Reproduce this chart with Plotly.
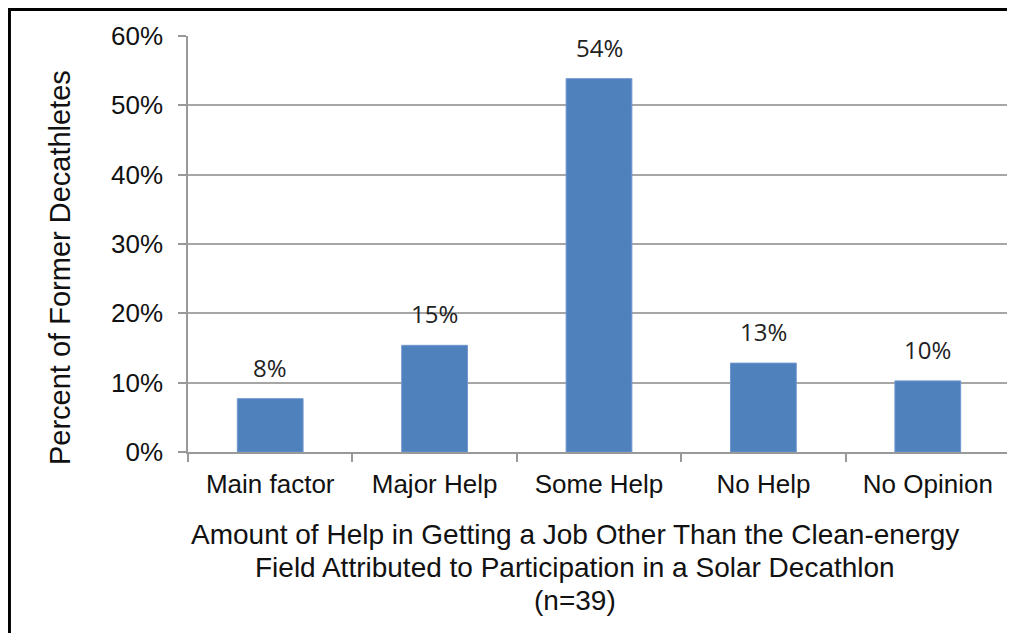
import plotly.graph_objects as go

categories = ["Main factor", "Major Help", "Some Help", "No Help", "No Opinion"]
counts = [3, 6, 21, 5, 4]
n_total = 39
values = [c / n_total * 100 for c in counts]
labels = [f"{round(v):.0f}%" for v in values]
y_ticks = [0, 10, 20, 30, 40, 50, 60]
y_tick_labels = [f"{t}%" for t in y_ticks]
x_title_lines = ["Amount of Help in Getting a Job Other Than the Clean-energy",
                 "Field Attributed to Participation in a Solar Decathlon",
                 "(n=39)"]
y_title = "Percent of Former Decathletes"

fig = go.Figure()
fig.add_trace(go.Bar(
    x=categories, y=values,
    marker=dict(color="#4f81bd", line=dict(color="#6f97cf", width=1)),
    width=0.4, hoverinfo="x+y",
))

annotations = []
for c, v, t in zip(categories, values, labels):
    annotations.append(dict(x=c, y=v, xref="x", yref="y", text=t, showarrow=False,
                            yanchor="bottom", yshift=13,
                            font=dict(family="Open Sans, Lato, sans-serif", size=24, color="#222")))
for line, py in zip(x_title_lines, [-0.1995, -0.2788, -0.3558]):
    annotations.append(dict(x=0.4708, y=py, xref="paper", yref="paper", text=line,
                            showarrow=False, xanchor="center", yanchor="middle",
                            font=dict(size=28, color="#111")))
annotations.append(dict(x=-0.1557, y=0.4423, xref="paper", yref="paper", text=y_title,
                        showarrow=False, textangle=-90, xanchor="center", yanchor="middle",
                        font=dict(size=29, color="#111")))

fig.update_layout(
    width=1007, height=625,
    margin=dict(l=180, r=5, t=28, b=181),
    paper_bgcolor="white", plot_bgcolor="white",
    showlegend=False,
    font=dict(family="Liberation Sans, Arial, sans-serif", color="#111"),
    xaxis=dict(
        tickson="boundaries", ticks="outside", ticklen=8, tickcolor="#999",
        tickwidth=1.5,
        showline=True, linecolor="#999", linewidth=1.5,
        tickfont=dict(size=26), ticklabelstandoff=8,
    ),
    yaxis=dict(
        range=[0, 60], tickvals=y_ticks, ticktext=y_tick_labels,
        ticks="outside", ticklen=8, tickcolor="#999", tickwidth=1.5,
        showgrid=True, gridcolor="#a6a6a6", gridwidth=1.5,
        showline=True, linecolor="#999", linewidth=1.5,
        zeroline=False,
        tickfont=dict(size=26), ticklabelstandoff=10,
    ),
    annotations=annotations,
    shapes=[dict(type="rect", xref="paper", yref="paper",
                 x0=-0.2172, x1=1.0024, y0=-0.6, y1=1.0637,
                 line=dict(color="black", width=3), layer="above")],
)

fig.write_html("out.html")
